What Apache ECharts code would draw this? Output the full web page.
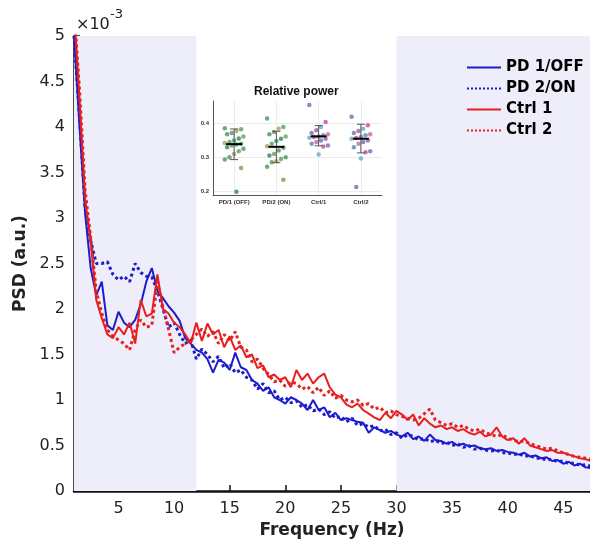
<!DOCTYPE html>
<html><head><meta charset="utf-8">
<script src="https://cdn.jsdelivr.net/npm/echarts@6/dist/echarts.min.js"></script>
<style>html,body{margin:0;padding:0;background:#fff}#c{width:590px;height:544px}</style>
</head><body><div id="c"></div>
<script>
// ---------- main PSD data (units: x10^-3 a.u.) ----------
const freq = [1.0,1.5,2.0,2.5,3.0,3.5,4.0,4.5,5.0,5.5,6.0,6.5,7.0,7.5,8.0,8.5,9.0,9.5,10.0,10.5,11.0,11.5,12.0,12.5,13.0,13.5,14.0,14.5,15.0,15.5,16.0,16.5,17.0,17.5,18.0,18.5,19.0,19.5,20.0,20.5,21.0,21.5,22.0,22.5,23.0,23.5,24.0,24.5,25.0,25.5,26.0,26.5,27.0,27.5,28.0,28.5,29.0,29.5,30.0,30.5,31.0,31.5,32.0,32.5,33.0,33.5,34.0,34.5,35.0,35.5,36.0,36.5,37.0,37.5,38.0,38.5,39.0,39.5,40.0,40.5,41.0,41.5,42.0,42.5,43.0,43.5,44.0,44.5,45.0,45.5,46.0,46.5,47.0,47.5];
const pd1Off = [5.0,4.0,3.05,2.45,2.15,2.3,1.82,1.77,1.97,1.85,1.8,1.88,2.05,2.3,2.45,2.2,2.12,2.03,1.96,1.87,1.68,1.62,1.55,1.52,1.45,1.30,1.44,1.41,1.33,1.52,1.36,1.33,1.22,1.18,1.1,1.14,1.03,1.0,0.96,1.03,1.0,0.96,0.89,1.0,0.89,0.92,0.81,0.86,0.78,0.8,0.78,0.76,0.75,0.64,0.7,0.67,0.64,0.66,0.62,0.6,0.64,0.57,0.6,0.55,0.62,0.56,0.55,0.52,0.54,0.5,0.52,0.49,0.5,0.47,0.46,0.47,0.44,0.45,0.43,0.42,0.4,0.42,0.38,0.39,0.36,0.37,0.33,0.34,0.3,0.32,0.28,0.3,0.26,0.25];
const pd2On = [5.0,4.1,3.1,2.75,2.5,2.5,2.52,2.38,2.32,2.36,2.3,2.5,2.4,2.36,2.35,2.2,2.0,1.8,1.85,1.72,1.62,1.66,1.45,1.56,1.5,1.42,1.48,1.35,1.4,1.3,1.33,1.25,1.22,1.12,1.18,1.08,1.1,1.0,1.03,0.97,0.99,0.92,0.95,0.88,0.9,0.84,0.87,0.8,0.82,0.76,0.8,0.72,0.74,0.7,0.72,0.66,0.68,0.62,0.64,0.58,0.62,0.6,0.56,0.58,0.54,0.56,0.52,0.54,0.5,0.52,0.48,0.5,0.46,0.47,0.45,0.44,0.45,0.42,0.42,0.4,0.41,0.38,0.39,0.36,0.36,0.34,0.35,0.32,0.33,0.3,0.31,0.28,0.29,0.27];
const ctrl1 = [5.3,4.3,3.2,2.75,2.1,1.9,1.72,1.68,1.8,1.72,1.85,1.62,2.1,1.92,1.95,2.38,2.0,1.95,1.85,1.8,1.72,1.62,1.85,1.65,1.84,1.72,1.77,1.58,1.7,1.55,1.6,1.47,1.5,1.35,1.38,1.25,1.28,1.22,1.25,1.14,1.33,1.22,1.29,1.18,1.25,1.29,1.14,1.06,1.03,0.95,0.92,0.96,0.89,0.85,0.81,0.78,0.86,0.8,0.88,0.84,0.78,0.84,0.72,0.8,0.74,0.7,0.72,0.68,0.7,0.66,0.68,0.64,0.62,0.65,0.6,0.62,0.7,0.6,0.56,0.58,0.52,0.58,0.5,0.48,0.46,0.44,0.45,0.42,0.42,0.4,0.38,0.36,0.35,0.33];
const ctrl2 = [5.3,4.4,3.3,2.78,2.2,1.95,1.77,1.7,1.66,1.62,1.55,1.77,1.88,1.8,1.82,2.3,2.02,1.78,1.52,1.58,1.62,1.66,1.72,1.78,1.7,1.75,1.62,1.72,1.65,1.75,1.58,1.55,1.42,1.45,1.35,1.28,1.2,1.22,1.15,1.2,1.18,1.12,1.15,1.08,1.14,1.05,1.1,1.02,1.05,1.0,0.98,1.0,0.94,0.96,0.9,0.92,0.86,0.88,0.84,0.82,0.8,0.78,0.8,0.85,0.9,0.78,0.75,0.72,0.74,0.7,0.72,0.68,0.66,0.68,0.64,0.62,0.6,0.62,0.58,0.56,0.54,0.55,0.52,0.5,0.48,0.46,0.47,0.44,0.42,0.4,0.38,0.37,0.36,0.35];
const seriesNames = ['PD 1/OFF','PD 2/ON','Ctrl 1','Ctrl 2'];
const shadedBands = [[1,12],[30,47.4]];
const yTickLabels = ['0','0.5','1','1.5','2','2.5','3','3.5','4','4.5','5'];

// ---------- inset data (relative power) ----------
const insetCats = ['PD/1 (OFF)','PD/2 (ON)','Ctrl/1','Ctrl/2'];
const relPD1 = [0.386,0.383,0.378,0.372,0.368,0.362,0.356,0.35,0.345,0.342,0.34,0.338,0.335,0.33,0.325,0.318,0.31,0.3,0.293,0.268,0.198];
const relPD2 = [0.415,0.39,0.385,0.375,0.368,0.362,0.355,0.348,0.34,0.333,0.328,0.32,0.31,0.305,0.3,0.295,0.288,0.285,0.272,0.233];
const relCtrl1 = [0.455,0.405,0.39,0.38,0.372,0.368,0.365,0.362,0.36,0.358,0.355,0.35,0.345,0.34,0.335,0.332,0.308];
const relCtrl2 = [0.42,0.395,0.385,0.378,0.372,0.368,0.365,0.36,0.357,0.355,0.35,0.345,0.34,0.33,0.318,0.315,0.296,0.212];
const relMean = [0.339,0.331,0.362,0.355];
const relLow  = [0.293,0.284,0.334,0.313];
const relHigh = [0.384,0.377,0.394,0.398];

const F = 'DejaVu Sans';
const FI = 'Liberation Sans';
const BLUE = '#1c1ccf', RED = '#e81f1f';
const pdColors = ['#3f9a5c','#4e9e6e','#b39b4c','#5c8f60','#3f9a5c','#6e9f58','#2f8a50'];
const ctrlColors = ['#6f6fb0','#c2508f','#6aa9cf','#8e5fa8','#6f6fb0','#d0679a','#5e86b8'];

const chart = echarts.init(document.getElementById('c'), null, {renderer:'canvas'});

function pair(vals){ return vals.map((v,i)=>[freq[i], v]); }
function jitterPts(vals, ci, cols){
  return vals.map((v,i)=>({value:[ci + (((i*7)%9)-4)*0.055, v], itemStyle:{color:cols[i%cols.length]}}));
}

const lineSeries = [
  {name:seriesNames[0], data:pair(pd1Off), color:BLUE, type:'solid'},
  {name:seriesNames[1], data:pair(pd2On), color:BLUE, type:'dotted'},
  {name:seriesNames[2], data:pair(ctrl1), color:RED, type:'solid'},
  {name:seriesNames[3], data:pair(ctrl2), color:RED, type:'dotted'}
].map(s=>({
  name:s.name, type:'line', xAxisIndex:0, yAxisIndex:0, data:s.data,
  showSymbol:false, symbol:'none', z:3, clip:true, animation:false,
  itemStyle:{color:s.color},
  lineStyle:{color:s.color, width: s.type==='dotted'?3:2, type:s.type, cap:'butt'}
}));

const option = {
  animation:false,
  backgroundColor:'#fff',
  grid:[
    {left:74, top:36, right:0, bottom:53, containLabel:false},
    {left:213, top:101, right:208, bottom:349, containLabel:false}
  ],
  legend:{
    data:seriesNames, orient:'vertical', left:461, top:55,
    itemWidth:34, itemHeight:12, itemGap:6,
    itemStyle:{color:'transparent', borderColor:'transparent', borderWidth:0, opacity:0},
    textStyle:{fontFamily:F, fontSize:15, fontWeight:'bold', color:'#000'}
  },
  xAxis:[
    {type:'value', gridIndex:0, min:1, max:47.4, minInterval:5, maxInterval:5,
     name:'Frequency (Hz)', nameLocation:'middle', nameGap:31,
     nameTextStyle:{fontFamily:F, fontSize:17, fontWeight:'bold', color:'#222'},
     axisLine:{show:true, onZero:false, lineStyle:{color:'#111', width:2.5}},
     axisTick:{show:true, inside:true, length:6, lineStyle:{color:'#111', width:1.5}},
     axisLabel:{showMinLabel:false, showMaxLabel:false, fontFamily:F, fontSize:16, color:'#222', margin:10},
     splitLine:{show:false}},
    {type:'value', gridIndex:1, min:-0.5, max:3.5, minInterval:1, maxInterval:1,
     axisLine:{show:true, onZero:false, lineStyle:{color:'#555', width:1}},
     axisTick:{show:false},
     axisLabel:{showMinLabel:false, showMaxLabel:false, fontFamily:FI, fontSize:6, fontWeight:'bold', color:'#333', margin:4,
       formatter:v=>{const k=Math.round(v); return Math.abs(v-k)<1e-6 && insetCats[k]!==undefined ? insetCats[k] : '';}},
     splitLine:{show:true, showMinLine:false, showMaxLine:false, lineStyle:{color:'#ececec', width:1}}}
  ],
  yAxis:[
    {type:'value', gridIndex:0, min:0, max:5, interval:0.5,
     name:'PSD (a.u.)', nameLocation:'middle', nameGap:44,
     nameTextStyle:{fontFamily:F, fontSize:17, fontWeight:'bold', color:'#222'},
     axisLine:{show:true, onZero:false, lineStyle:{color:'#111', width:2.5}},
     axisTick:{show:true, inside:true, length:6, lineStyle:{color:'#111', width:1.5}},
     axisLabel:{fontFamily:F, fontSize:16, color:'#222', margin:9,
       formatter:(v)=>yTickLabels[Math.round(v/0.5)]},
     splitLine:{show:false}},
    {type:'value', gridIndex:1, min:0.188, max:0.467, minInterval:0.1, maxInterval:0.1,
     axisLine:{show:true, onZero:false, lineStyle:{color:'#555', width:1}},
     axisTick:{show:false},
     axisLabel:{showMinLabel:false, showMaxLabel:false, fontFamily:FI, fontSize:6, fontWeight:'bold', color:'#333', margin:4,
       formatter:v=>v.toFixed(1)},
     splitLine:{show:true, showMinLine:false, showMaxLine:false, lineStyle:{color:'#ececec', width:1}}}
  ],
  graphic:[
    {type:'text', left:76, top:17, z:10, style:{text:'×10', fontFamily:F, fontSize:16, fill:'#222'}},
    {type:'text', left:110, top:8, z:10, style:{text:'-3', fontFamily:F, fontSize:13, fill:'#222'}},
    {type:'text', left:254, top:86, z:10, style:{text:'Relative power', fontFamily:FI, fontSize:12, fontWeight:'bold', fill:'#111'}}
  ],
  series:[
    {name:'bands', type:'line', xAxisIndex:0, yAxisIndex:0, data:[], z:1, silent:true,
     markArea:{silent:true, itemStyle:{color:'#eeeefb'},
       data:shadedBands.map(b=>[{xAxis:b[0]},{xAxis:b[1]}])}},
    ...lineSeries,
    {name:'insetPts', type:'scatter', xAxisIndex:1, yAxisIndex:1, symbolSize:4.5, z:4,
     data:[].concat(jitterPts(relPD1,0,pdColors), jitterPts(relPD2,1,pdColors), jitterPts(relCtrl1,2,ctrlColors), jitterPts(relCtrl2,3,ctrlColors))},
    {name:'insetBars', type:'custom', xAxisIndex:1, yAxisIndex:1, z:5,
     data: relMean.map((m,i)=>[i, m, relLow[i], relHigh[i]]),
     renderItem:(params, api)=>{
       const x=api.value(0), m=api.value(1), lo=api.value(2), hi=api.value(3);
       const pL=api.coord([x,lo]), pH=api.coord([x,hi]), pM=api.coord([x,m]);
       const st={stroke:'#555', lineWidth:1};
       return {type:'group', children:[
         {type:'line', shape:{x1:pL[0],y1:pL[1],x2:pH[0],y2:pH[1]}, style:st},
         {type:'line', shape:{x1:pL[0]-4,y1:pL[1],x2:pL[0]+4,y2:pL[1]}, style:st},
         {type:'line', shape:{x1:pH[0]-4,y1:pH[1],x2:pH[0]+4,y2:pH[1]}, style:st},
         {type:'line', shape:{x1:pM[0]-8,y1:pM[1],x2:pM[0]+8,y2:pM[1]}, style:{stroke:'#000', lineWidth:2}}
       ]};
     }}
  ]
};
chart.setOption(option);
</script>
</body></html>
